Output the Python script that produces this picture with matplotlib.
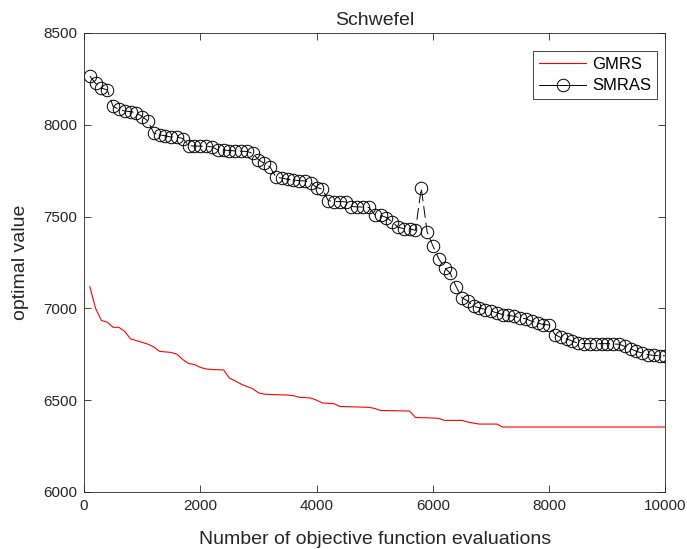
import matplotlib
matplotlib.use("Agg")
import matplotlib.pyplot as plt
from matplotlib.lines import Line2D

plt.rcParams['font.family'] = ['Liberation Sans', 'DejaVu Sans']
plt.rcParams['lines.scale_dashes'] = False

# GMRS (red line) breakpoints
gmrs_x = [100, 200, 300, 400, 500, 600, 700, 800, 1000, 1100, 1200, 1300, 1400,
          1500, 1600, 1700, 1800, 1900, 2000, 2100, 2200, 2400, 2500, 2600, 2700,
          2800, 2900, 3000, 3100, 3300, 3500, 3600, 3700, 3900, 4000, 4100, 4300,
          4400, 4900, 5000, 5100, 5600, 5700, 6000, 6100, 6200, 6500, 6600, 6700,
          6800, 7100, 7200, 10000]
gmrs_y = [7118, 7000, 6934, 6925, 6897, 6897, 6875, 6834, 6815, 6805, 6790, 6766,
          6763, 6760, 6750, 6721, 6700, 6694, 6679, 6670, 6667, 6665, 6621, 6605,
          6588, 6575, 6563, 6540, 6533, 6530, 6528, 6525, 6516, 6512, 6500, 6485,
          6481, 6466, 6461, 6455, 6444, 6441, 6406, 6403, 6401, 6390, 6390, 6381,
          6375, 6370, 6370, 6354, 6354]

# SMRAS (circles), every 100 evaluations
smras_x = list(range(100, 10001, 100))
smras_y = [8265, 8225, 8200, 8190, 8100, 8085, 8075, 8072, 8065, 8045,
           8020, 7955, 7945, 7940, 7933, 7933, 7925, 7887, 7884, 7884,
           7882, 7880, 7863, 7862, 7860, 7858, 7856, 7855, 7845, 7810,
           7790, 7770, 7715, 7710, 7703, 7699, 7696, 7694, 7685, 7658,
           7650, 7587, 7582, 7582, 7580, 7555, 7553, 7552, 7550, 7510,
           7507, 7495, 7472, 7441, 7435, 7434, 7425, 7655, 7418, 7340,
           7271, 7222, 7191, 7118, 7058, 7040, 7012, 7003, 6994, 6985,
           6976, 6966, 6962, 6957, 6948, 6943, 6930, 6921, 6912, 6910,
           6857, 6842, 6835, 6821, 6810, 6808, 6808, 6808, 6808, 6808,
           6806, 6805, 6793, 6780, 6766, 6757, 6748, 6744, 6742, 6742]

xticks = [0, 2000, 4000, 6000, 8000, 10000]
yticks = [6000, 6500, 7000, 7500, 8000, 8500]

C = '#262626'
fig = plt.figure(figsize=(6.87, 5.49), dpi=100)
ax = fig.add_axes([84/687, 57/549, 581.5/687, 459/549])

ax.plot(gmrs_x, gmrs_y, color=(1, 0, 0), lw=0.8)
ax.plot(smras_x, smras_y, color='black', lw=0.7, dashes=(8.5, 3.5),
        marker='o', markersize=9, markerfacecolor='none',
        markeredgecolor='black', markeredgewidth=0.7)

ax.set_xlim(0, 10000)
ax.set_ylim(6000, 8500)
ax.set_xticks(xticks)
ax.set_yticks(yticks)
ax.tick_params(direction='in', top=True, right=True, labelsize=11, pad=5,
               length=5, width=0.6, colors=C, labelcolor=C)
for s in ax.spines.values():
    s.set_linewidth(0.6)
    s.set_color(C)

ax.set_title('Schwefel', fontsize=14, pad=6, color=C)
ax.set_xlabel('Number of objective function evaluations', fontsize=14,
              labelpad=13, color=C)
ax.set_ylabel('optimal value', fontsize=14, labelpad=10, color=C)

handles = [Line2D([], [], color=(1, 0, 0), lw=0.8),
           Line2D([], [], color='black', lw=0.7, marker='o', markersize=9,
                  markerfacecolor='none', markeredgecolor='black',
                  markeredgewidth=0.7)]
leg = ax.legend(handles, ['GMRS', 'SMRAS'], loc='upper right',
                bbox_to_anchor=(0.986, 0.961), borderaxespad=0, fontsize=12,
                frameon=True, fancybox=False, edgecolor=C, framealpha=1,
                borderpad=0.35, handlelength=2.8, handletextpad=0.4,
                labelspacing=0.4)
leg.get_frame().set_linewidth(0.6)

fig.savefig('out.png', dpi=100)
